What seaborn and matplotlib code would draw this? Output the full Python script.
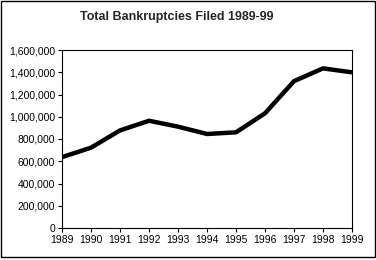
import matplotlib
matplotlib.use("Agg")
import matplotlib.pyplot as plt
import seaborn as sns
import pandas as pd
from matplotlib.ticker import FuncFormatter
from matplotlib.patches import Rectangle

years = [1989, 1990, 1991, 1992, 1993, 1994, 1995, 1996, 1997, 1998, 1999]
filings = [637000, 722000, 877000, 964000, 911000, 845000, 860000, 1031000, 1320000, 1435000, 1399000]
title = "Total Bankruptcies Filed 1989-99"

sns.set_style("ticks")
plt.rcParams['font.family'] = ['Liberation Sans', 'DejaVu Sans']

df = pd.DataFrame({"year": years, "filings": filings})

fig = plt.figure(figsize=(3.76, 2.6), dpi=100)
ax = fig.add_axes([62/376, 32/260, 290/376, 178/260])
sns.lineplot(data=df, x="year", y="filings", ax=ax, color="black", linewidth=3.2,
             solid_joinstyle="round", solid_capstyle="butt")
ax.set_xlim(1989, 1999)
ax.set_ylim(0, 1600000)
ax.set_xticks(years)
ax.set_yticks(range(0, 1600001, 200000))
ax.yaxis.set_major_formatter(FuncFormatter(lambda v, p: f"{int(v):,}"))
ax.set_xlabel("")
ax.set_ylabel("")
ax.tick_params(axis="both", labelsize=7.5, length=3, width=0.8, color="black", labelcolor="black", pad=2)
for s in ax.spines.values():
    s.set_visible(True)
    s.set_color("black")
    s.set_linewidth(0.8)
fig.text(177/376, 1 - 17/260, title, ha="center", va="center", fontsize=9, fontweight="bold")
fig.patches.append(Rectangle((0.5/376, 3.5/260), 374/376, 256/260, transform=fig.transFigure,
                             fill=False, edgecolor="black", linewidth=1))
fig.savefig("out.png", dpi=100)
